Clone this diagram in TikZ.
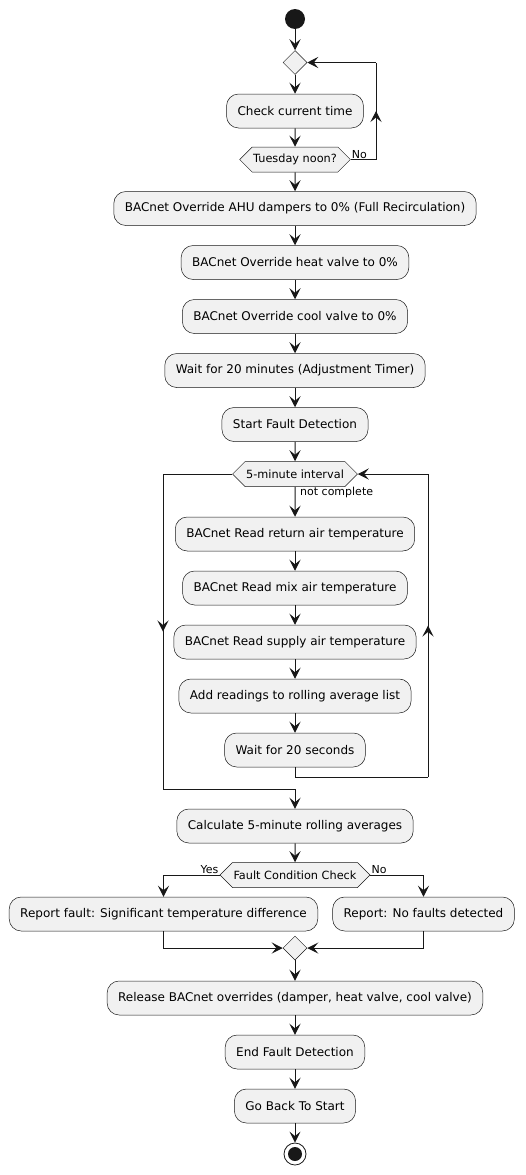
\documentclass[tikz,border=0pt]{standalone}
\usepackage{fontspec}
\setmainfont{DejaVu Sans}
\usepackage{tikz}
\usetikzlibrary{arrows.meta,shapes.geometric,shapes.symbols,decorations.markings}
\definecolor{boxfill}{HTML}{F1F1F1}
\definecolor{ink}{HTML}{181818}
\tikzstyle{arrow}     = [line width=1pt,draw=ink,-{Stealth[length=11pt,width=11pt,inset=4.5pt]}]
\tikzstyle{line}      = [line width=1pt,draw=ink]
\tikzstyle{midarrow}  = [line,postaction={decorate},decoration={markings,mark=at position 0.5 with {\arrow{Stealth[length=11pt,width=11pt,inset=4.5pt]}}}]
\tikzstyle{act}       = [draw=ink,line width=0.5pt,fill=boxfill,rounded corners=12pt,minimum height=34pt,inner xsep=11pt,font=\fontsize{12}{14}\selectfont]
\tikzstyle{hexa}      = [draw=ink,line width=0.5pt,fill=boxfill,signal,signal to=east and west,signal pointer angle=90,minimum height=25pt,inner xsep=1pt,inner ysep=0pt,font=\fontsize{11.3}{13}\selectfont]
\tikzstyle{merge}     = [draw=ink,line width=0.5pt,fill=boxfill,diamond,minimum width=24pt,minimum height=24pt,inner sep=0pt]
\tikzstyle{lbl}       = [font=\fontsize{11}{13}\selectfont,inner sep=1pt]

\begin{document}
\begin{tikzpicture}[x=1pt,y=-1pt]
           \useasboundingbox(0, 0)rectangle(526, 1175);
           \node[circle,fill=ink,minimum size=20pt,inner sep=0pt](a)at(295, 19){};
           \node[merge](b)at(295, 62.5){};
           \node[act](c)at(295, 111){Check current time};
           \node[hexa](d)at(295, 159.5){Tuesday noon?};
           \node[act](e)at(295, 208.5){BACnet Override AHU dampers to 0\% (Full Recirculation)};
           \node[act](f)at(295, 262.5){BACnet Override heat valve to 0\%};
           \node[act](g)at(295, 316.5){BACnet Override cool valve to 0\%};
           \node[act](h)at(295, 370.5){Wait for 20 minutes (Adjustment Timer)};
           \node[act](i)at(295, 424.5){Start Fault Detection};
           \node[hexa](k)at(295, 474){5-minute interval};
           \node[act](l)at(295, 534){BACnet Read return air temperature};
           \node[act](m)at(295, 588){BACnet Read mix air temperature};
           \node[act](n)at(295, 642){BACnet Read supply air temperature};
           \node[act](o)at(295, 696){Add readings to rolling average list};
           \node[act](p)at(295, 750){Wait for 20 seconds};
           \node[act](q)at(295, 826){Calculate 5-minute rolling averages};
           \node[hexa](r)at(295, 875){Fault Condition Check};
           \node[act](s)at(163.5, 914){Report fault: Significant temperature difference};
           \node[act](t)at(423.5, 914){Report: No faults detected};
           \node[merge](u)at(295, 948){};
           \node[act](v)at(295, 998){Release BACnet overrides (damper, heat valve, cool valve)};
           \node[act](w)at(295, 1052){End Fault Detection};
           \node[act](x)at(295, 1106){Go Back To Start};
           \node[circle,draw=ink,line width=0.8pt,fill=white,minimum size=22pt,inner sep=0pt](y)at(295, 1154){};
           \node[circle,fill=ink,minimum size=14pt,inner sep=0pt](z)at(295, 1154){};
           \coordinate(d1)at(376, 159.5);
           \coordinate(d2)at(376, 62.5);
           \coordinate(r1)at(295, 777);
           \coordinate(r2)at(428, 777);
           \coordinate(r3)at(428, 474);
           \coordinate(l1)at(163, 474);
           \coordinate(l2)at(163, 789);
           \coordinate(l3)at(295, 789);
           \draw[arrow](a)--(b);
           \draw[arrow](b)--(c);
           \draw[arrow](c)--(d);
           \draw[line](d.east)--(d1);
           \draw[midarrow](d1)--(d2);
           \draw[arrow](d2)--(b.east);
           \draw[arrow](d)--(e);
           \draw[arrow](e)--(f);
           \draw[arrow](f)--(g);
           \draw[arrow](g)--(h);
           \draw[arrow](h)--(i);
           \draw[arrow](i)--(k);
           \draw[arrow](k)--(l);
           \draw[arrow](l)--(m);
           \draw[arrow](m)--(n);
           \draw[arrow](n)--(o);
           \draw[arrow](o)--(p);
           \draw[line](p)--(r1)--(r2);
           \draw[midarrow](r2)--(r3);
           \draw[arrow](r3)--(k.east);
           \draw[line](k.west)--(l1);
           \draw[midarrow](l1)--(l2);
           \draw[arrow](l2)--(l3)--(q);
           \draw[arrow](q)--(r);
           \draw[arrow](r.west)-|(s);
           \draw[arrow](r.east)-|(t);
           \draw[arrow](s)|-(u);
           \draw[arrow](t)|-(u);
           \draw[arrow](u)--(v);
           \draw[arrow](v)--(w);
           \draw[arrow](w)--(x);
           \draw[arrow](x)--(y);
           \node[lbl,anchor=south west](no1)at(d.east){No};
           \node[lbl,anchor=west](nc)at(299, 492){not complete};
           \node[lbl,anchor=south east](yes)at(r.west){Yes};
           \node[lbl,anchor=south west](no2)at(r.east){No};
       \end{tikzpicture}
\end{document}
